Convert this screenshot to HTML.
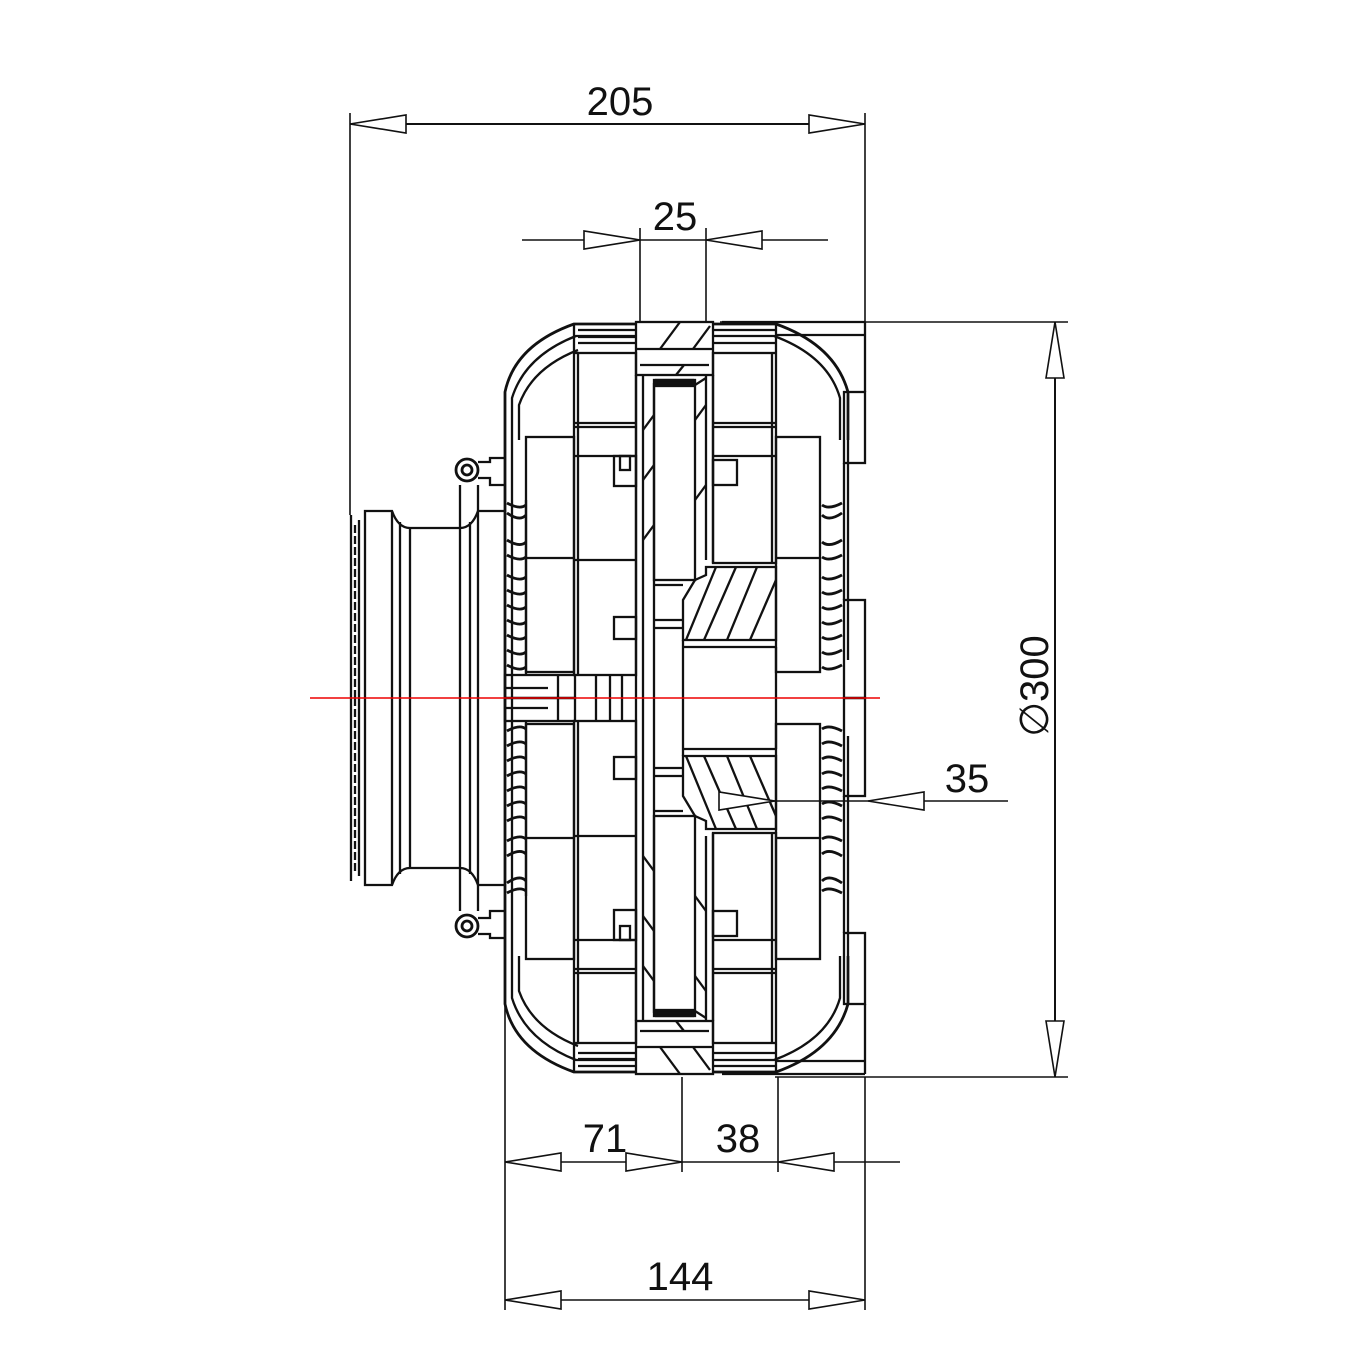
<!DOCTYPE html>
<html><head><meta charset="utf-8"><style>
html,body{margin:0;padding:0;background:#fff;}
svg{display:block;}
text{font-family:"Liberation Sans","DejaVu Sans",sans-serif;font-size:40px;fill:#111;}
</style></head><body>
<svg width="1366" height="1366" viewBox="0 0 1366 1366" xmlns="http://www.w3.org/2000/svg">
<defs>
<g id="half" fill="none" stroke="#111" stroke-width="2.3">
  <path d="M505 698 V392 Q515 345 574 324 H636" stroke-width="2.8"/>
  <path d="M512 698 V398 Q525 356 576 336 H636"/>
  <path d="M519 440 V405 Q532 368 578 350"/>
  <line x1="574" y1="324" x2="574" y2="352"/>
  <line x1="578" y1="330" x2="636" y2="330"/>
  <line x1="578" y1="337" x2="636" y2="337"/>
  <line x1="578" y1="343" x2="636" y2="343"/>
  <path d="M713 324 H776 Q835 345 848 392 V440" stroke-width="2.8"/>
  <path d="M713 336 H774 Q828 356 840 398 V440"/>
  <line x1="776" y1="324" x2="776" y2="352"/>
  <line x1="713" y1="330" x2="776" y2="330"/>
  <line x1="713" y1="343" x2="776" y2="343"/>
  <line x1="722" y1="322" x2="865" y2="322"/>
  <line x1="776" y1="335" x2="865" y2="335"/>
  <rect x="844" y="392" width="21" height="71"/>
  <line x1="865" y1="322" x2="865" y2="392"/>
  <rect x="844" y="600" width="21" height="98"/>
  <line x1="844" y1="463" x2="844" y2="600"/>
  <line x1="848" y1="440" x2="848" y2="660"/>
  <rect x="636" y="322" width="77" height="53"/>
  <line x1="636" y1="349" x2="713" y2="349"/>
  <line x1="640" y1="365" x2="709" y2="365"/>
  <line x1="660" y1="349" x2="680" y2="322"/>
  <line x1="693" y1="349" x2="710" y2="326"/>
  <line x1="676" y1="375" x2="684" y2="365"/>
  <line x1="636" y1="375" x2="636" y2="698"/>
  <line x1="643" y1="375" x2="643" y2="698"/>
  <line x1="654" y1="383" x2="654" y2="698"/>
  <rect x="654" y="380" width="41" height="200"/>
  <rect x="656" y="380" width="37" height="6" fill="#111"/>
  <line x1="706" y1="375" x2="706" y2="560"/>
  <line x1="713" y1="375" x2="713" y2="563"/>
  <line x1="695" y1="385" x2="706" y2="378"/>
  <line x1="643" y1="430" x2="654" y2="415"/>
  <line x1="643" y1="480" x2="654" y2="465"/>
  <line x1="643" y1="540" x2="654" y2="525"/>
  <line x1="695" y1="500" x2="706" y2="485"/>
  <line x1="695" y1="420" x2="706" y2="405"/>
  <rect x="574" y="353" width="62" height="322"/>
  <line x1="578" y1="353" x2="578" y2="675"/>
  <line x1="574" y1="423" x2="636" y2="423"/>
  <line x1="574" y1="427" x2="636" y2="427"/>
  <line x1="574" y1="456" x2="636" y2="456"/>
  <line x1="574" y1="560" x2="636" y2="560"/>
  <rect x="614" y="456" width="22" height="30"/>
  <rect x="620" y="456" width="10" height="14"/>
  <rect x="614" y="617" width="22" height="22"/>
  <rect x="526" y="437" width="48" height="235"/>
  <line x1="526" y1="558" x2="574" y2="558"/>
  <rect x="713" y="353" width="63" height="210"/>
  <line x1="772" y1="353" x2="772" y2="563"/>
  <line x1="713" y1="423" x2="776" y2="423"/>
  <line x1="713" y1="427" x2="776" y2="427"/>
  <line x1="713" y1="456" x2="776" y2="456"/>
  <rect x="713" y="460" width="24" height="25"/>
  <rect x="776" y="437" width="44" height="235"/>
  <line x1="776" y1="558" x2="820" y2="558"/>
  <path d="M695 580 L683 600 V640 H776 V567 H706 V575 Z"/>
  <line x1="686" y1="640" x2="716" y2="567"/>
  <line x1="704" y1="640" x2="736" y2="567"/>
  <line x1="727" y1="640" x2="757" y2="567"/>
  <line x1="750" y1="640" x2="776" y2="580"/>
  <line x1="683" y1="647" x2="776" y2="647"/>
  <line x1="654" y1="585" x2="683" y2="585"/>
  <line x1="654" y1="620" x2="683" y2="620"/>
  <line x1="654" y1="628" x2="683" y2="628"/>
  <line x1="683" y1="640" x2="683" y2="698"/>
  <line x1="776" y1="647" x2="776" y2="698"/>
  <g stroke-width="2.8">
    <path d="M507 503 Q520 510 526 505"/><path d="M507 513 Q520 522 526 515"/>
    <path d="M507 540 Q520 548 526 542"/><path d="M507 555 Q520 562 526 557"/>
    <path d="M507 575 Q520 582 526 577"/><path d="M507 590 Q520 597 526 592"/>
    <path d="M507 605 Q520 612 526 607"/><path d="M507 620 Q520 627 526 622"/>
    <path d="M507 635 Q520 642 526 637"/><path d="M507 650 Q520 657 526 652"/>
    <path d="M507 665 Q520 672 526 667"/>
  </g>
  <line x1="526" y1="500" x2="526" y2="675"/>
  <g stroke-width="2.8">
    <path d="M842 503 Q829 510 822 505"/><path d="M842 513 Q829 522 822 515"/>
    <path d="M842 540 Q829 548 822 542"/><path d="M842 555 Q829 562 822 557"/>
    <path d="M842 575 Q829 582 822 577"/><path d="M842 590 Q829 597 822 592"/>
    <path d="M842 605 Q829 612 822 607"/><path d="M842 620 Q829 627 822 622"/>
    <path d="M842 635 Q829 642 822 637"/><path d="M842 650 Q829 657 822 652"/>
    <path d="M842 665 Q829 672 822 667"/>
  </g>
  <rect x="505" y="675" width="70" height="23"/>
  <line x1="505" y1="688" x2="548" y2="688"/>
  <line x1="558" y1="675" x2="558" y2="698"/>
  <line x1="596" y1="675" x2="596" y2="698"/>
  <line x1="610" y1="675" x2="610" y2="698"/>
  <line x1="622" y1="675" x2="622" y2="698"/>
  <!-- left flange / hub -->
  <line x1="351" y1="515" x2="351" y2="698"/>
  <line x1="355" y1="525" x2="355" y2="698" stroke-dasharray="8 3"/>
  <line x1="359" y1="520" x2="359" y2="698"/>
  <path d="M365 698 V511 H392 Q398 528 410 528 H460 Q472 528 478 511 H505"/>
  <line x1="392" y1="511" x2="392" y2="698"/>
  <line x1="400" y1="522" x2="400" y2="698"/>
  <line x1="410" y1="528" x2="410" y2="698"/>
  <line x1="460" y1="485" x2="460" y2="698"/>
  <line x1="470" y1="522" x2="470" y2="698"/>
  <line x1="478" y1="485" x2="478" y2="698"/>
  <circle cx="467" cy="470" r="11" stroke-width="2.8"/>
  <circle cx="467" cy="470" r="5" stroke-width="2.8"/>
  <path d="M478 462 H490 V458 H505 M478 478 H490 V485 H505"/>
</g>
<g id="arr" fill="#fff" stroke="#111" stroke-width="1.6">
  <path d="M0 0 L-56 -9 V9 Z"/>
</g>
</defs>

<use href="#half"/>
<g transform="translate(0,1396) scale(1,-1)"><use href="#half"/></g>

<line x1="310" y1="698" x2="880" y2="698" stroke="#e00" stroke-width="1.5"/>

<g stroke="#111" stroke-width="1.6" fill="none">
  <line x1="350" y1="113" x2="350" y2="515"/>
  <line x1="865" y1="113" x2="865" y2="322"/>
  <line x1="350" y1="124" x2="865" y2="124" stroke-width="2"/>
  <line x1="640" y1="228" x2="640" y2="322"/>
  <line x1="706" y1="228" x2="706" y2="322"/>
  <line x1="522" y1="240" x2="828" y2="240"/>
  <line x1="720" y1="322" x2="1068" y2="322"/>
  <line x1="775" y1="1077" x2="1068" y2="1077"/>
  <line x1="1055" y1="322" x2="1055" y2="1077" stroke-width="2"/>
  <line x1="720" y1="801" x2="1008" y2="801"/>
  <line x1="505" y1="700" x2="505" y2="1310"/>
  <line x1="682" y1="1077" x2="682" y2="1172"/>
  <line x1="778" y1="1077" x2="778" y2="1172"/>
  <line x1="505" y1="1162" x2="900" y2="1162"/>
  <line x1="865" y1="1077" x2="865" y2="1310"/>
  <line x1="505" y1="1300" x2="865" y2="1300"/>
</g>

<use href="#arr" transform="translate(350,124) rotate(180)"/>
<use href="#arr" transform="translate(865,124)"/>
<use href="#arr" transform="translate(640,240)"/>
<use href="#arr" transform="translate(706,240) rotate(180)"/>
<use href="#arr" transform="translate(1055,322) rotate(-90)"/>
<use href="#arr" transform="translate(1055,1077) rotate(90)"/>
<use href="#arr" transform="translate(775,801)"/>
<use href="#arr" transform="translate(868,801) rotate(180)"/>
<use href="#arr" transform="translate(505,1162) rotate(180)"/>
<use href="#arr" transform="translate(682,1162)"/>
<use href="#arr" transform="translate(778,1162) rotate(180)"/>
<use href="#arr" transform="translate(505,1300) rotate(180)"/>
<use href="#arr" transform="translate(865,1300)"/>

<text x="620" y="115" text-anchor="middle">205</text>
<text x="675" y="230" text-anchor="middle">25</text>
<text x="967" y="792" text-anchor="middle">35</text>
<text x="605" y="1152" text-anchor="middle">71</text>
<text x="738" y="1152" text-anchor="middle">38</text>
<text x="680" y="1290" text-anchor="middle">144</text>
<text transform="translate(1048,686) rotate(-90)" text-anchor="middle">∅300</text>
</svg>
</body></html>
